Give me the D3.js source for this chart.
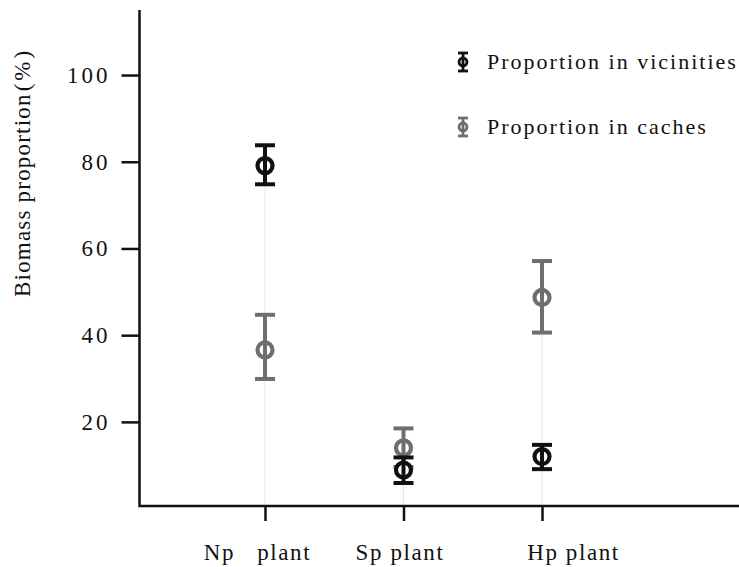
<!DOCTYPE html>
<html>
<head>
<meta charset="utf-8">
<script src="https://cdn.jsdelivr.net/npm/d3@7"></script>
<style>
  body { margin: 0; background: #fff; }
  svg { display: block; }
  text { font-family: "Liberation Serif", "Times New Roman", serif; }
</style>
</head>
<body>
<svg id="chart" width="739" height="567"></svg>
<script>
// ---- data ----
const categories = ["Np   plant", "Sp plant", "Hp plant"];
const seriesNames = ["Proportion in vicinities", "Proportion in caches"];
const vicinitiesMean = [79.1, 8.9, 12.0];
const vicinitiesLow  = [74.8, 5.9, 9.1];
const vicinitiesHigh = [83.8, 11.8, 14.7];
const cachesMean = [36.6, 14.0, 48.7];
const cachesLow  = [29.9, 9.6, 40.6];
const cachesHigh = [44.7, 18.5, 57.1];
const yTicks = [20, 40, 60, 80, 100];
const seriesColors = ["#111111", "#6e6e6e"];

// ---- layout ----
const svg = d3.select("#chart");
const axisX = 139.5, axisBottom = 506, axisTop = 10, axisRight = 739;
const labelShift = [-8, -4, 31]; // horizontal offsets of category labels

const y = d3.scaleLinear().domain([0.6, 115]).range([axisBottom, axisTop]);
const x = d3.scalePoint().domain(categories).range([265, 542]);

// drop lines (faint)
categories.forEach((c, i) => {
  const top = Math.max(vicinitiesHigh[i], cachesHigh[i]);
  svg.append("line")
    .attr("x1", x(c)).attr("x2", x(c))
    .attr("y1", y(top)).attr("y2", axisBottom)
    .attr("stroke", "#e6e6e6").attr("stroke-width", 1);
});

// y axis
const yAxis = d3.axisLeft(y).tickValues(yTicks).tickSize(18).tickPadding(11);
const gy = svg.append("g").attr("transform", `translate(${axisX},0)`).call(yAxis);
gy.select(".domain").remove();
gy.selectAll(".tick line").attr("stroke", "#111").attr("stroke-width", 2.5);
gy.selectAll(".tick text").attr("font-size", 23).attr("fill", "#111")
  .style("letter-spacing", "3px")
  .attr("font-family", "Liberation Serif");

// x axis
const xAxis = d3.axisBottom(x).tickSize(15).tickPadding(23).tickSizeOuter(0);
const gx = svg.append("g").attr("transform", `translate(0,${axisBottom})`).call(xAxis);
gx.select(".domain").remove();
gx.selectAll(".tick line").attr("stroke", "#111").attr("stroke-width", 2.5);
gx.selectAll(".tick text").attr("font-size", 23).attr("fill", "#111")
  .attr("dx", (d, i) => labelShift[i])
  .style("white-space", "pre").style("letter-spacing", "1.6px")
  .attr("font-family", "Liberation Serif");

// axis lines
svg.append("path")
  .attr("d", `M${axisX},${axisTop}V${axisBottom}H${axisRight}`)
  .attr("fill", "none").attr("stroke", "#111").attr("stroke-width", 2.5);

// y label
const yl = svg.append("text")
  .attr("transform", "translate(30,297) rotate(-90)")
  .attr("text-anchor", "start")
  .attr("font-size", 23).attr("fill", "#111");
yl.append("tspan").style("letter-spacing", "1.2px").text("Biomass proportion");
yl.append("tspan").attr("dx", 2).style("letter-spacing", "3px").text("(%)");

// error bars + markers
function drawSeries(mean, low, high, color) {
  const g = svg.append("g");
  categories.forEach((c, i) => {
    const cx = x(c);
    g.append("line").attr("x1", cx).attr("x2", cx)
      .attr("y1", y(high[i])).attr("y2", y(low[i]))
      .attr("stroke", color).attr("stroke-width", 4);
    [high[i], low[i]].forEach(v => {
      g.append("line").attr("x1", cx - 10).attr("x2", cx + 10)
        .attr("y1", y(v)).attr("y2", y(v))
        .attr("stroke", color).attr("stroke-width", 4);
    });
    g.append("circle").attr("cx", cx).attr("cy", y(mean[i])).attr("r", 7.5)
      .attr("fill", "#fff").attr("stroke", color).attr("stroke-width", 4.2);
    g.append("line").attr("x1", cx).attr("x2", cx)
      .attr("y1", y(mean[i]) - 7).attr("y2", y(mean[i]) + 7)
      .attr("stroke", color).attr("stroke-width", 4);
  });
}
drawSeries(cachesMean, cachesLow, cachesHigh, seriesColors[1]);
drawSeries(vicinitiesMean, vicinitiesLow, vicinitiesHigh, seriesColors[0]);

// legend
const legendY = [62, 127];
seriesNames.forEach((name, i) => {
  const g = svg.append("g").attr("transform", `translate(463,${legendY[i]})`);
  const col = seriesColors[i];
  g.append("line").attr("x1", 0).attr("x2", 0).attr("y1", -9).attr("y2", 9)
    .attr("stroke", col).attr("stroke-width", 2.8);
  [-9, 9].forEach(v => g.append("line").attr("x1", -5).attr("x2", 5)
    .attr("y1", v).attr("y2", v).attr("stroke", col).attr("stroke-width", 2.8));
  g.append("circle").attr("r", 4).attr("fill", "#fff")
    .attr("stroke", col).attr("stroke-width", 2.8);
  g.append("line").attr("x1", 0).attr("x2", 0).attr("y1", -4).attr("y2", 4)
    .attr("stroke", col).attr("stroke-width", 2.8);
  g.append("text").attr("x", 24).attr("y", 7)
    .attr("font-size", 22).attr("fill", "#111")
    .style("letter-spacing", "2px")
    .text(name);
});
</script>
</body>
</html>
